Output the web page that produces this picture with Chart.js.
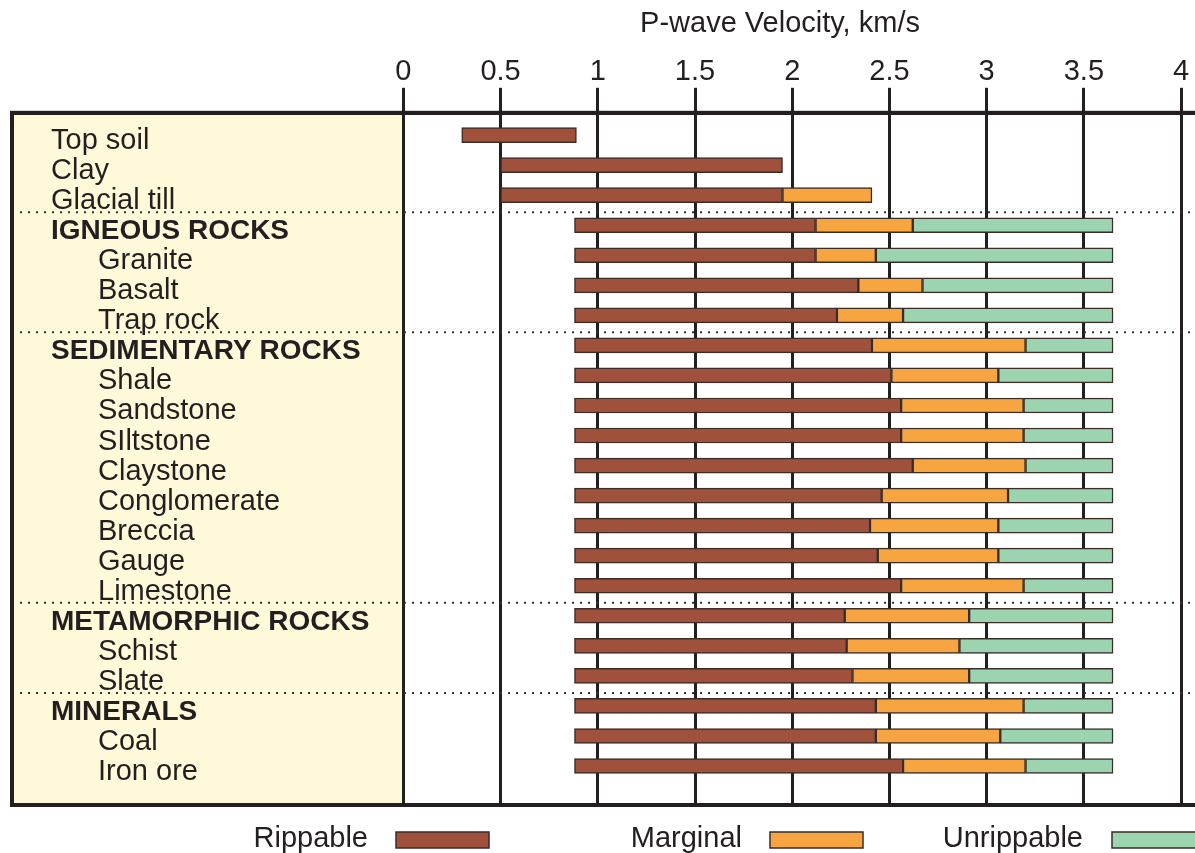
<!DOCTYPE html>
<html>
<head>
<meta charset="utf-8">
<title>P-wave velocity and rippability</title>
<script src="https://cdn.jsdelivr.net/npm/chart.js@4.4.1/dist/chart.umd.min.js"></script>
<style>
  html, body { margin: 0; padding: 0; background: #fff; overflow: hidden; }
  canvas { display: block; }
</style>
</head>
<body>
<canvas id="chart-ripping" width="1240" height="853"></canvas>
<script>
(function () {
  'use strict';

  // rows, top to bottom
  var materials = [
    'Top soil', 'Clay', 'Glacial till',
    'IGNEOUS ROCKS', 'Granite', 'Basalt', 'Trap rock',
    'SEDIMENTARY ROCKS', 'Shale', 'Sandstone', 'SIltstone', 'Claystone',
    'Conglomerate', 'Breccia', 'Gauge', 'Limestone',
    'METAMORPHIC ROCKS', 'Schist', 'Slate',
    'MINERALS', 'Coal', 'Iron ore'
  ];
  var groupHeadings = ['IGNEOUS ROCKS', 'SEDIMENTARY ROCKS', 'METAMORPHIC ROCKS', 'MINERALS'];

  // velocities in km/s (null = no band)
  var rippableFrom = [0.3, 0.5, 0.5, 0.88, 0.88, 0.88, 0.88, 0.88, 0.88, 0.88, 0.88, 0.88,
                      0.88, 0.88, 0.88, 0.88, 0.88, 0.88, 0.88, 0.88, 0.88, 0.88];
  var rippableTo = [0.89, 1.95, 1.95, 2.12, 2.12, 2.34, 2.23, 2.41, 2.51, 2.56, 2.56, 2.62,
                    2.46, 2.40, 2.44, 2.56, 2.27, 2.28, 2.31, 2.43, 2.43, 2.57];
  var marginalTo = [null, null, 2.41, 2.62, 2.43, 2.67, 2.57, 3.20, 3.06, 3.19, 3.19, 3.20,
                    3.11, 3.06, 3.06, 3.19, 2.91, 2.86, 2.91, 3.19, 3.07, 3.20];
  var unrippableTo = [null, null, null, 3.65, 3.65, 3.65, 3.65, 3.65, 3.65, 3.65, 3.65, 3.65,
                      3.65, 3.65, 3.65, 3.65, 3.65, 3.65, 3.65, 3.65, 3.65, 3.65];

  var velocityTicks = [0, 0.5, 1, 1.5, 2, 2.5, 3, 3.5, 4];
  var seriesNames = ['Rippable', 'Marginal', 'Unrippable'];
  var axisTitle = 'P-wave Velocity, km/s';

  var INK = '#231f20';
  var OUTLINE = '#3a2d28';
  var COLORS = ['#a0513c', '#f7a541', '#9cd4b0'];
  var PANEL = '#fef9d8';
  var FONT = "'Liberation Sans', Arial, sans-serif";

  Chart.defaults.font.family = FONT;
  Chart.defaults.color = INK;

  function spans(from, to) {
    var out = [];
    materials.forEach(function (m, i) {
      if (from[i] == null || to[i] == null) return;
      out.push({ x: [from[i], to[i]], y: i });
    });
    return out;
  }

  var decor = {
    id: 'ripDecor',
    beforeDraw: function (chart) {
      var ctx = chart.ctx, a = chart.chartArea, x = chart.scales.x;
      ctx.save();
      ctx.fillStyle = '#fff';
      ctx.fillRect(0, 0, chart.width, chart.height);
      ctx.fillStyle = PANEL;
      ctx.fillRect(a.left, a.top, x.getPixelForValue(0) - a.left, a.bottom - a.top);
      ctx.restore();
    },
    afterDatasetsDraw: function (chart) {
      var ctx = chart.ctx, a = chart.chartArea, y = chart.scales.y;
      ctx.save();
      ctx.strokeStyle = '#333';
      ctx.lineWidth = 2;
      ctx.setLineDash([2, 6]);
      groupHeadings.forEach(function (h) {
        var i = materials.indexOf(h);
        var py = (y.getPixelForValue(i - 1) + y.getPixelForValue(i)) / 2 + 2;
        ctx.beginPath();
        ctx.moveTo(a.left, py);
        ctx.lineTo(a.right, py);
        ctx.stroke();
      });
      ctx.restore();
    },
    afterDraw: function (chart) {
      var ctx = chart.ctx, a = chart.chartArea, y = chart.scales.y;
      var firstHeading = materials.indexOf(groupHeadings[0]);
      ctx.save();

      // row labels
      ctx.fillStyle = INK;
      ctx.textAlign = 'left';
      ctx.textBaseline = 'middle';
      materials.forEach(function (name, i) {
        var heading = groupHeadings.indexOf(name) >= 0;
        var indent = (!heading && i > firstHeading) ? 86 : 39;
        ctx.font = (heading ? 'bold 28px ' : '29px ') + FONT;
        ctx.fillText(name, a.left + indent, y.getPixelForValue(i) + 6);
      });

      // frame
      ctx.strokeStyle = INK;
      ctx.lineWidth = 4;
      ctx.strokeRect(a.left, a.top, a.right - a.left, a.bottom - a.top);

      // axis title
      ctx.font = '29px ' + FONT;
      ctx.textAlign = 'center';
      ctx.textBaseline = 'alphabetic';
      ctx.fillText(axisTitle, 780, 32);

      // legend: text, then swatch
      var slots = [[368, 396], [742, 770], [1083, 1112]];
      ctx.textAlign = 'right';
      seriesNames.forEach(function (name, k) {
        ctx.fillStyle = INK;
        ctx.fillText(name, slots[k][0], 847);
        ctx.fillStyle = COLORS[k];
        ctx.fillRect(slots[k][1], 832, 93, 16);
        ctx.strokeStyle = OUTLINE;
        ctx.lineWidth = 1.5;
        ctx.strokeRect(slots[k][1], 832, 93, 16);
      });
      ctx.restore();
    }
  };

  new Chart(document.getElementById('chart-ripping'), {
    type: 'bar',
    data: {
      datasets: [
        { label: seriesNames[0], data: spans(rippableFrom, rippableTo), backgroundColor: COLORS[0] },
        { label: seriesNames[1], data: spans(rippableTo, marginalTo), backgroundColor: COLORS[1] },
        { label: seriesNames[2], data: spans(marginalTo, unrippableTo), backgroundColor: COLORS[2] }
      ]
    },
    options: {
      responsive: false,
      animation: false,
      indexAxis: 'y',
      layout: { padding: { top: 57, left: 12, right: 0, bottom: 48 } },
      datasets: {
        bar: { grouped: false, barThickness: 15, borderWidth: 1.5, borderColor: OUTLINE, borderSkipped: false }
      },
      plugins: { legend: { display: false }, tooltip: { enabled: false } },
      scales: {
        x: {
          type: 'linear',
          position: 'top',
          min: -2.013,
          max: 4.303,
          afterBuildTicks: function (axis) {
            axis.ticks = velocityTicks.map(function (v) { return { value: v }; });
          },
          ticks: {
            autoSkip: false,
            maxRotation: 0,
            padding: -2,
            color: INK,
            font: { size: 29 },
            callback: function (v) { return String(v); }
          },
          grid: { color: INK, lineWidth: 3, tickLength: 25 },
          border: { display: true, color: INK, width: 4 }
        },
        y: {
          type: 'linear',
          display: false,
          reverse: true,
          offset: false,
          grid: { offset: false },
          min: -0.742,
          max: 22.298
        }
      }
    },
    plugins: [decor]
  });
})();
</script>
</body>
</html>
